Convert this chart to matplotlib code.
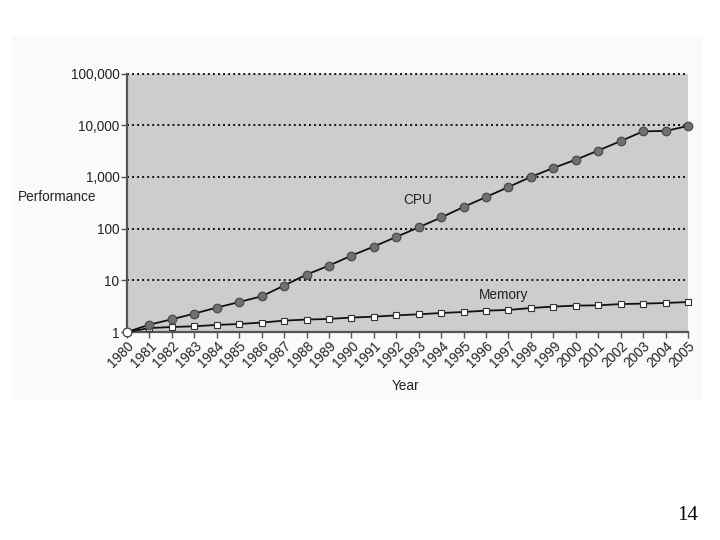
import matplotlib
matplotlib.use("Agg")
import matplotlib.pyplot as plt
from matplotlib.patches import Rectangle
from matplotlib.ticker import FixedLocator, NullLocator

years = list(range(1980, 2006))
cpu = [1, 1.39, 1.76, 2.27, 2.96, 3.8, 4.9, 7.9, 12.9, 19.2, 30,
       45, 69, 106, 164, 262, 408, 638, 1000, 1490, 2150, 3240, 4930,
       7600, 7750, 9660]
memory = [1, 1.19, 1.25, 1.29, 1.37, 1.43, 1.52, 1.66, 1.74, 1.79, 1.9,
          1.98, 2.1, 2.2, 2.33, 2.44, 2.59, 2.67, 2.91, 3.1, 3.24, 3.28,
          3.47, 3.54, 3.64, 3.8]
ytick_vals = [1, 10, 100, 1000, 10000, 100000]
ytick_labels = ["1", "10", "100", "1,000", "10,000", "100,000"]

plt.rcParams['font.family'] = ['Liberation Sans', 'DejaVu Sans']

fig = plt.figure(figsize=(7.2, 5.4), dpi=100)
fig.patch.set_facecolor('white')

# off-white picture panel in a background axes
bg = fig.add_axes([0, 0, 1, 1], zorder=-10)
bg.set_xlim(0, 720)
bg.set_ylim(540, 0)
bg.axis('off')
bg.add_patch(Rectangle((12, 36), 703 - 12, 400 - 36, facecolor='#fafbf9',
                       edgecolor='none'))

ax = fig.add_axes([127/720, 1-332/540, (688-127)/720, (332-73.5)/540], zorder=1)
ax.set_facecolor('#cdcecb')
ax.set_yscale('log')
ax.set_xlim(1980, 2005)
ax.set_ylim(1, 100000)

for v in ytick_vals[1:]:
    ax.axhline(v, color='#111111', lw=1.4, ls=(0, (1, 1.6)), zorder=1, clip_on=False)

ax.plot(years, memory, color='#111111', lw=1.3, marker='s', ms=4.6,
        mfc='white', mec='#333333', mew=0.8, zorder=3, clip_on=False)
ax.plot(years, cpu, color='#111111', lw=1.3, marker='o', ms=6.2,
        mfc='#6f7070', mec='#444444', mew=0.8, zorder=4, clip_on=False)
ax.plot(years[:1], cpu[:1], marker='o', ms=6.2, mfc='white', mec='#444444',
        mew=0.8, zorder=5, clip_on=False, ls='none')

ax.yaxis.set_major_locator(FixedLocator(ytick_vals))
ax.yaxis.set_minor_locator(NullLocator())
ax.set_yticklabels(ytick_labels)
ax.set_xticks(years)
ax.set_xticklabels([str(y) for y in years], rotation=45, ha='right',
                   rotation_mode='anchor')

for s in ['top', 'right']:
    ax.spines[s].set_visible(False)
for s in ['left', 'bottom']:
    ax.spines[s].set_color('#555555')
    ax.spines[s].set_linewidth(1.6)

ax.tick_params(axis='y', direction='out', length=4, width=1, color='#555555',
               labelsize=9.8, labelcolor='#222222', pad=1.5)
ax.tick_params(axis='x', direction='out', length=4, width=1, color='#555555',
               labelsize=9.8, labelcolor='#222222', pad=1)

fig.text(57/720, 1-197/540, "Performance", ha='center', va='center',
         fontsize=9.8, color='#222222')
fig.text(406/720, 1-386/540, "Year", ha='center', va='center',
         fontsize=9.8, color='#222222')
ax.text(1992.95, 350, "CPU", ha='center', va='center', fontsize=9.8, color='#222222')
ax.text(1996.8, 5.1, "Memory", ha='center', va='center', fontsize=9.8, color='#222222')

fig.text(688/720, 1-516/540, "14", ha='center', va='center', fontsize=15,
         family='Liberation Serif', color='black')

fig.savefig('out.png', dpi=100)
